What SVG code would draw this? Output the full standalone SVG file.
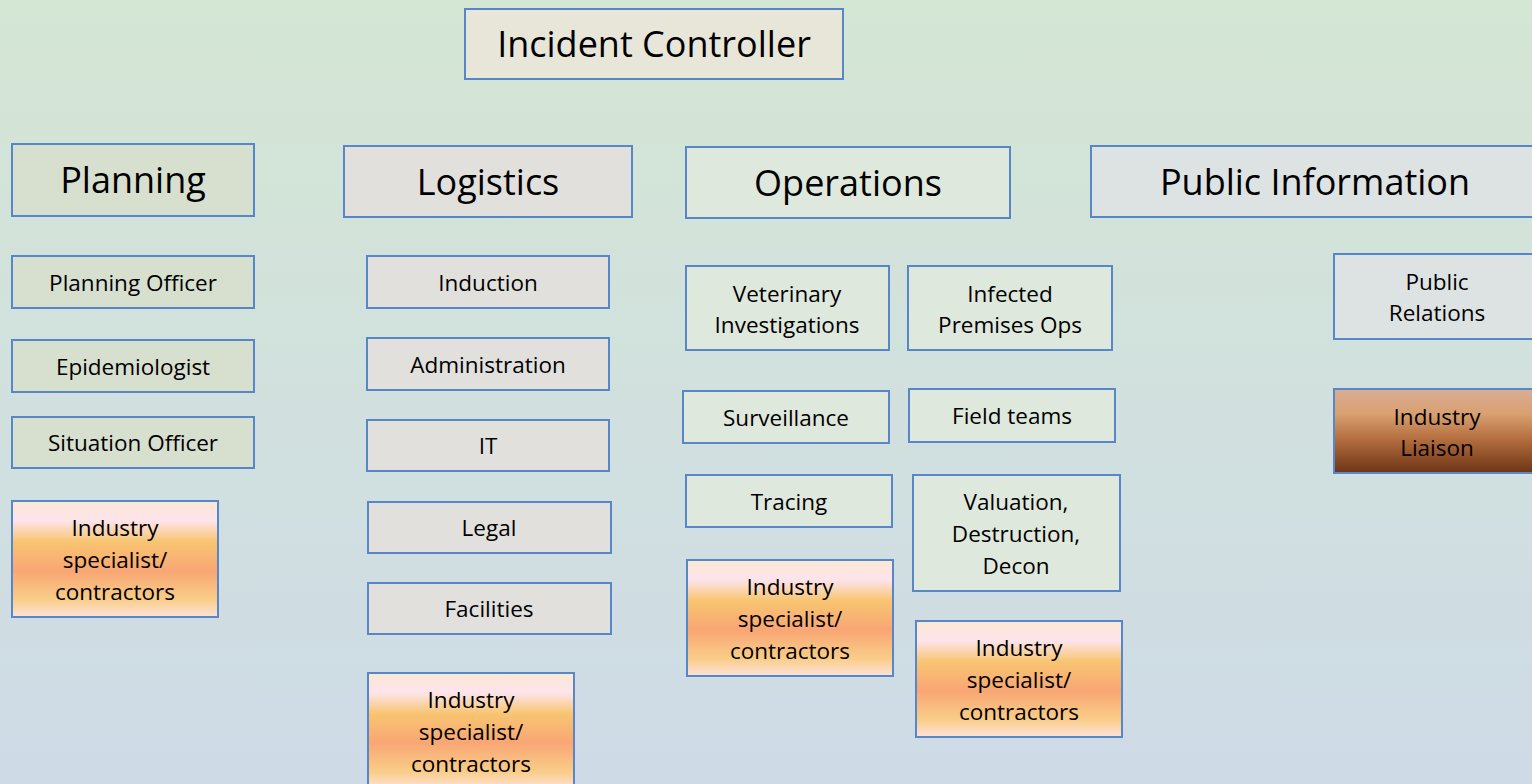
<svg xmlns="http://www.w3.org/2000/svg" width="1532" height="784" viewBox="0 0 1532 784">
<defs>
<linearGradient id="bg" x1="0" y1="0" x2="0" y2="1">
<stop offset="0" stop-color="#d4e6d4"/>
<stop offset="1" stop-color="#cedbe7"/>
</linearGradient>
<linearGradient id="sunset" x1="0" y1="0" x2="0" y2="1">
<stop offset="0" stop-color="#fce8d4"/>
<stop offset="0.17" stop-color="#fde4ec"/>
<stop offset="0.35" stop-color="#f8c571"/>
<stop offset="0.6" stop-color="#f9a674"/>
<stop offset="0.85" stop-color="#f9cd88"/>
<stop offset="1" stop-color="#fde2da"/>
</linearGradient>
<linearGradient id="bronze" x1="0" y1="0" x2="0" y2="1">
<stop offset="0" stop-color="#d9ad95"/>
<stop offset="0.3" stop-color="#d9a070"/>
<stop offset="0.6" stop-color="#b36d3e"/>
<stop offset="1" stop-color="#6c3415"/>
</linearGradient>
</defs>
<style>
.b{stroke:#5787c8;stroke-width:2}
.ic{fill:#e7e6d8}
.pl{fill:#d7dfcf}
.lo{fill:#e2e0dd}
.op{fill:#dfe8dc}
.pi{fill:#dde2e3}
.su{fill:url(#sunset)}
.br{fill:url(#bronze)}
text{font-family:"Open Sans","Liberation Sans",sans-serif;fill:#000;text-anchor:middle}
.h{font-size:36px}
.s{font-size:22.5px}
</style>
<rect x="0" y="0" width="1532" height="784" fill="url(#bg)"/>
<g id="connectors"/>

<g id="incident-controller"><rect class="b ic" x="465" y="9" width="378" height="70"/><text class="h" x="654" y="57">Incident Controller</text></g>

<g id="planning"><rect class="b pl" x="12" y="144" width="242" height="72"/><text class="h" x="133" y="193">Planning</text></g>
<g id="logistics"><rect class="b lo" x="344" y="146" width="288" height="71"/><text class="h" x="488" y="195">Logistics</text></g>
<g id="operations"><rect class="b op" x="686" y="147" width="324" height="71"/><text class="h" x="848" y="196">Operations</text></g>
<g id="public-information"><rect class="b pi" x="1091" y="146" width="450" height="71"/><text class="h" x="1315" y="195">Public Information</text></g>

<g id="planning-officer"><rect class="b pl" x="12" y="256" width="242" height="52"/><text class="s" x="133" y="291">Planning Officer</text></g>
<g id="epidemiologist"><rect class="b pl" x="12" y="340" width="242" height="52"/><text class="s" x="133" y="375">Epidemiologist</text></g>
<g id="situation-officer"><rect class="b pl" x="12" y="417" width="242" height="51"/><text class="s" x="133" y="451">Situation Officer</text></g>
<g id="planning-industry"><rect class="b su" x="12" y="501" width="206" height="116"/><text class="s" x="115" y="536">Industry</text><text class="s" x="115" y="568">specialist/</text><text class="s" x="115" y="600">contractors</text></g>

<g id="induction"><rect class="b lo" x="367" y="256" width="242" height="52"/><text class="s" x="488" y="291">Induction</text></g>
<g id="administration"><rect class="b lo" x="367" y="338" width="242" height="52"/><text class="s" x="488" y="373">Administration</text></g>
<g id="it"><rect class="b lo" x="367" y="420" width="242" height="51"/><text class="s" x="488" y="454">IT</text></g>
<g id="legal"><rect class="b lo" x="368" y="502" width="243" height="51"/><text class="s" x="489" y="536">Legal</text></g>
<g id="facilities"><rect class="b lo" x="368" y="583" width="243" height="51"/><text class="s" x="489" y="617">Facilities</text></g>
<g id="logistics-industry"><rect class="b su" x="368" y="673" width="206" height="116"/><text class="s" x="471" y="708">Industry</text><text class="s" x="471" y="740">specialist/</text><text class="s" x="471" y="772">contractors</text></g>

<g id="veterinary-investigations"><rect class="b op" x="686" y="266" width="203" height="84"/><text class="s" x="787" y="302">Veterinary</text><text class="s" x="787" y="333">Investigations</text></g>
<g id="infected-premises-ops"><rect class="b op" x="908" y="266" width="204" height="84"/><text class="s" x="1010" y="302">Infected</text><text class="s" x="1010" y="333">Premises Ops</text></g>
<g id="surveillance"><rect class="b op" x="683" y="391" width="206" height="52"/><text class="s" x="786" y="426">Surveillance</text></g>
<g id="field-teams"><rect class="b op" x="909" y="389" width="206" height="53"/><text class="s" x="1012" y="424">Field teams</text></g>
<g id="tracing"><rect class="b op" x="686" y="475" width="206" height="52"/><text class="s" x="789" y="510">Tracing</text></g>
<g id="valuation"><rect class="b op" x="913" y="475" width="207" height="116"/><text class="s" x="1016" y="510">Valuation,</text><text class="s" x="1016" y="542">Destruction,</text><text class="s" x="1016" y="574">Decon</text></g>
<g id="operations-industry-1"><rect class="b su" x="687" y="560" width="206" height="116"/><text class="s" x="790" y="595">Industry</text><text class="s" x="790" y="627">specialist/</text><text class="s" x="790" y="659">contractors</text></g>
<g id="operations-industry-2"><rect class="b su" x="916" y="621" width="206" height="116"/><text class="s" x="1019" y="656">Industry</text><text class="s" x="1019" y="688">specialist/</text><text class="s" x="1019" y="720">contractors</text></g>

<g id="public-relations"><rect class="b pi" x="1334" y="254" width="206" height="85"/><text class="s" x="1437" y="290">Public</text><text class="s" x="1437" y="321">Relations</text></g>
<g id="industry-liaison"><rect class="b br" x="1334" y="389" width="206" height="84"/><text class="s" x="1437" y="425">Industry</text><text class="s" x="1437" y="456">Liaison</text></g>
</svg>
